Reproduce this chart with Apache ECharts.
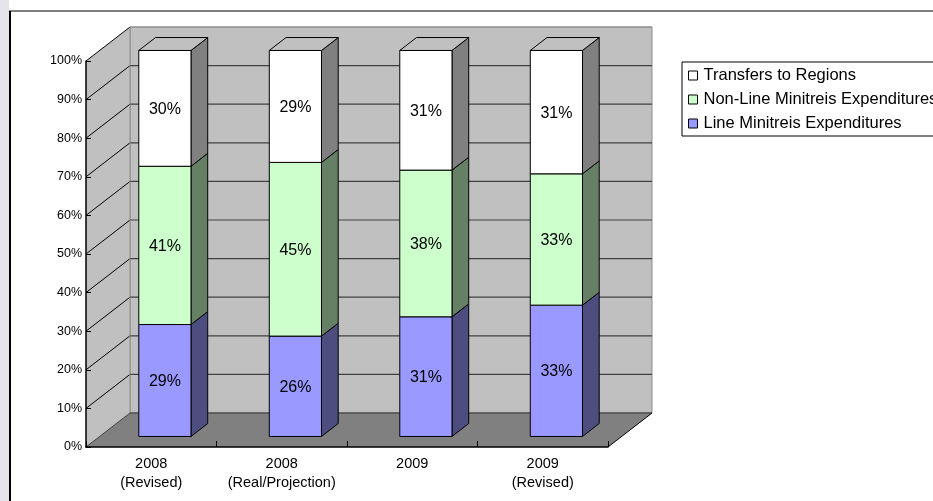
<!DOCTYPE html>
<html>
<head>
<meta charset="utf-8">
<title>Expenditure shares</title>
<script src="https://cdn.jsdelivr.net/npm/echarts@6/dist/echarts.min.js"></script>
<style>
  html, body { margin: 0; padding: 0; background: #ffffff; }
  #chart { width: 933px; height: 501px; }
</style>
</head>
<body>
<div id="chart"></div>
<script>
// ---- data ----
const categories = ['2008\n(Revised)', '2008\n(Real/Projection)', '2009', '2009\n(Revised)'];
const lineMinistries = [29, 26, 31, 33];
const nonLineMinistries = [41, 45, 38, 33];
const transfersToRegions = [30, 29, 31, 31];
const yTickValues = [0, 10, 20, 30, 40, 50, 60, 70, 80, 90, 100];

const seriesNames = ['Line Minitreis Expenditures', 'Non-Line Minitreis Expenditures', 'Transfers to Regions'];
const seriesValues = [lineMinistries, nonLineMinistries, transfersToRegions];

// ---- styling ----
const FONT = 'Liberation Sans, Arial, sans-serif';
const DX = 44, DY = 34;          // depth of the 3D box
const F0 = 0.31, F1 = 0.69;      // depth slice occupied by the columns
const faceColors = ['#9999ff', '#ccffcc', '#ffffff'];
const sideColors = ['#4d4d80', '#668066', '#808080'];
const topColors  = ['#4d4d80', '#99cc99', '#c0c0c0'];

// 100% stacking: each layer gets [category, from%, to%, value, isTopLayer]
const totals = categories.map((c, i) => seriesValues.reduce((s, arr) => s + arr[i], 0));
const layers = seriesValues.map((arr, k) => arr.map((v, i) => {
  let base = 0;
  for (let j = 0; j < k; j++) base += seriesValues[j][i];
  const from = base / totals[i] * 100;
  const to = (base + v) / totals[i] * 100;
  return [i, from, to, v, k === seriesValues.length - 1 ? 1 : 0];
}));

function renderWalls(params, api) {
  const cs = params.coordSys;
  const x0 = cs.x, x1 = cs.x + cs.width, yTop = cs.y, yBot = cs.y + cs.height;
  const children = [];
  // back wall
  children.push({ type: 'polygon', shape: { points: [[x0 + DX, yTop - DY], [x1 + DX, yTop - DY], [x1 + DX, yBot - DY], [x0 + DX, yBot - DY]] },
    style: { fill: '#c0c0c0', stroke: '#8c8c8c', lineWidth: 1 } });
  // side wall
  children.push({ type: 'polygon', shape: { points: [[x0, yTop], [x0 + DX, yTop - DY], [x0 + DX, yBot - DY], [x0, yBot]] },
    style: { fill: '#c0c0c0', stroke: 'none' } });
  // floor
  children.push({ type: 'polygon', shape: { points: [[x0, yBot], [x1, yBot], [x1 + DX, yBot - DY], [x0 + DX, yBot - DY]] },
    style: { fill: '#808080', stroke: 'none' } });
  // gridlines
  yTickValues.forEach(v => {
    const y = api.coord([0, v])[1];
    if (v > 0) {
      children.push({ type: 'line', shape: { x1: x0 + DX, y1: y - DY, x2: x1 + DX, y2: y - DY },
        style: { stroke: v === 100 ? '#8c8c8c' : '#404040', lineWidth: 1.2 } });
    }
    children.push({ type: 'line', shape: { x1: x0, y1: y, x2: x0 + DX, y2: y - DY },
      style: { stroke: v === 0 ? '#404040' : '#000000', lineWidth: 1 } });
  });
  // wall edges
  children.push({ type: 'line', shape: { x1: x0 + DX, y1: yTop - DY, x2: x0 + DX, y2: yBot - DY }, style: { stroke: '#8c8c8c', lineWidth: 1 } });
  children.push({ type: 'line', shape: { x1: x0 + DX, y1: yBot - DY, x2: x1 + DX, y2: yBot - DY }, style: { stroke: '#505050', lineWidth: 1.5 } });
  children.push({ type: 'line', shape: { x1: x1, y1: yBot, x2: x1 + DX, y2: yBot - DY }, style: { stroke: '#000000', lineWidth: 1 } });
  return { type: 'group', children: children };
}

function renderColumn(params, api) {
  const k = params.seriesIndex - 1;
  const cat = api.value(0), lo = api.value(1), hi = api.value(2), val = api.value(3), isTop = api.value(4);
  const pLo = api.coord([cat, lo]);
  const pHi = api.coord([cat, hi]);
  const hw = api.size([1, 0])[0] * 0.2;
  const fx = DX * F0, fy = DY * F0;
  const dx = DX * (F1 - F0), dy = DY * (F1 - F0);
  const xl = pLo[0] - hw + fx, xr = pLo[0] + hw + fx;
  const yb = pLo[1] - fy, yt = pHi[1] - fy;
  const children = [
    { type: 'polygon', shape: { points: [[xr, yb], [xr + dx, yb - dy], [xr + dx, yt - dy], [xr, yt]] },
      style: { fill: sideColors[k], stroke: '#000', lineWidth: 1 } },
    { type: 'polygon', shape: { points: [[xl, yb], [xr, yb], [xr, yt], [xl, yt]] },
      style: { fill: faceColors[k], stroke: '#000', lineWidth: 1 } }
  ];
  if (isTop) {
    children.push({ type: 'polygon', shape: { points: [[xl, yt], [xr, yt], [xr + dx, yt - dy], [xl + dx, yt - dy]] },
      style: { fill: topColors[k], stroke: '#000', lineWidth: 1 } });
  }
  children.push({ type: 'text', x: (xl + xr) / 2, y: (yb + yt) / 2 + 1,
    style: { text: val + '%', fill: '#000', font: '16px ' + FONT, align: 'center', verticalAlign: 'middle' } });
  return { type: 'group', children: children };
}

const chart = echarts.init(document.getElementById('chart'), null, { renderer: 'canvas' });

const series = [{
  type: 'custom', name: 'walls', silent: true, z: 1,
  renderItem: renderWalls, data: [[0, 0]], encode: { x: 0, y: 1 }
}];
seriesValues.forEach((arr, k) => {
  series.push({
    type: 'custom', name: seriesNames[k], z: 3,
    itemStyle: { color: faceColors[k] },
    renderItem: renderColumn,
    data: layers[k],
    encode: { x: 0, y: [1, 2] }
  });
});

chart.setOption({
  animation: false,
  backgroundColor: '#ffffff',
  textStyle: { fontFamily: FONT },
  graphic: [
    { type: 'rect', shape: { x: 0, y: 0, width: 9, height: 501 }, style: { fill: '#e4e4ea' }, z: 0 },
    { type: 'line', shape: { x1: 9, y1: 11, x2: 933, y2: 11 }, style: { stroke: '#000', lineWidth: 1 } },
    { type: 'line', shape: { x1: 10, y1: 11, x2: 10, y2: 501 }, style: { stroke: '#000', lineWidth: 2 } }
  ],
  grid: { left: 86, top: 61, width: 522, height: 386 },
  legend: {
    left: 682, top: 62, orient: 'vertical',
    data: [seriesNames[2], seriesNames[1], seriesNames[0]].map(n => ({
      name: n, icon: 'rect',
      itemStyle: { color: faceColors[seriesNames.indexOf(n)], borderColor: '#000', borderWidth: 1 }
    })),
    itemWidth: 9, itemHeight: 9, itemGap: 7,
    padding: [5, 10, 4, 6],
    borderColor: '#000', borderWidth: 1, borderRadius: 0,
    textStyle: { fontFamily: FONT, fontSize: 16.5, color: '#000', padding: [0, 0, 0, 1] },
    selectedMode: false
  },
  xAxis: {
    type: 'category', data: categories, boundaryGap: true, z: 5,
    axisLine: { show: true, lineStyle: { color: '#000', width: 1.5 } },
    axisTick: { show: true, inside: true, length: 6, lineStyle: { color: '#000' } },
    axisLabel: { color: '#000', fontSize: 14.5, lineHeight: 19, margin: 7, fontFamily: FONT, interval: 0 },
    splitLine: { show: false }
  },
  yAxis: {
    type: 'value', min: 0, max: 100, interval: 10, z: 5,
    axisLine: { show: true, lineStyle: { color: '#000', width: 1.5 } },
    axisTick: { show: true, inside: true, length: 5, lineStyle: { color: '#000' } },
    axisLabel: { color: '#000', fontSize: 12.5, margin: 4, fontFamily: FONT, formatter: '{value}%' },
    splitLine: { show: false }
  },
  tooltip: { show: false },
  series: series
});
</script>
</body>
</html>
